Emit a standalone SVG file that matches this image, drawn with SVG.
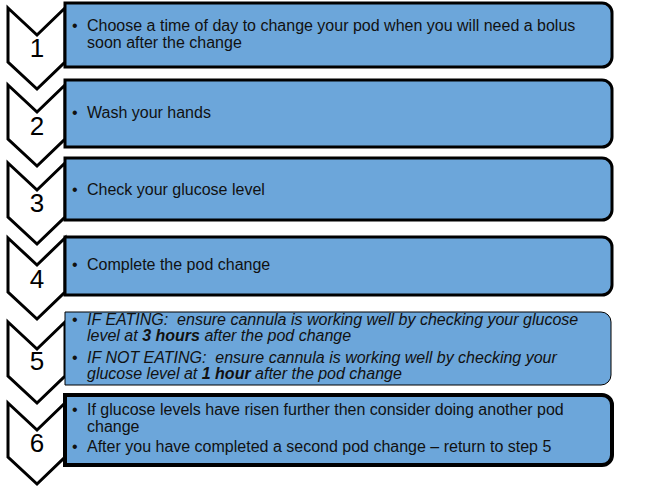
<svg xmlns="http://www.w3.org/2000/svg" width="660" height="496" viewBox="0 0 660 496">
<style>
.chev{fill:#fff;stroke:#000;stroke-width:3;stroke-linejoin:miter}
.box{fill:#6CA6DA;stroke:#000;stroke-width:3}
.box5{fill:#6CA6DA;stroke:#000;stroke-width:1}
.num{font-family:"Liberation Sans",Arial,sans-serif;font-size:26px;fill:#000;text-anchor:middle}
.t{font-family:"Liberation Sans",Arial,sans-serif;font-size:16px;fill:#111}
.ti{font-family:"Liberation Sans",Arial,sans-serif;font-size:16px;font-style:italic;fill:#111}
</style>
<rect width="660" height="496" fill="#fff"/>
<g id="chevrons">
<path class="chev" d="M8,8 L37,35 L65,8 V62 L37,89 L8,62 Z"/>
<path class="chev" d="M8,85 L37,112 L65,85 V139 L37,166 L8,139 Z"/>
<path class="chev" d="M8,163 L37,190 L65,163 V217 L37,244 L8,217 Z"/>
<path class="chev" d="M8,238 L37,265 L65,238 V292 L37,319 L8,292 Z"/>
<path class="chev" d="M8,322 L37,349 L65,322 V376 L37,403 L8,376 Z"/>
<path class="chev" d="M8,403 L37,430 L65,403 V457 L37,484 L8,457 Z"/>
</g>
<g id="step1">
<path class="box" d="M65,3 H602 A10,10 0 0 1 612,13 V57 A10,10 0 0 1 602,67 H65 Z"/>
<text class="num" x="37" y="57">1</text>
<text class="t" x="72" y="31">•</text>
<text class="t" x="87" y="31">Choose a time of day to change your pod when you will need a bolus</text>
<text class="t" x="87" y="48">soon after the change</text>
</g>
<g id="step2">
<path class="box" d="M65,80 H602 A10,10 0 0 1 612,90 V137 A10,10 0 0 1 602,147 H65 Z"/>
<text class="num" x="37" y="135">2</text>
<text class="t" x="72" y="118">•</text>
<text class="t" x="87" y="118">Wash your hands</text>
</g>
<g id="step3">
<path class="box" d="M65,158 H602 A10,10 0 0 1 612,168 V210 A10,10 0 0 1 602,220 H65 Z"/>
<text class="num" x="37" y="212">3</text>
<text class="t" x="72" y="195">•</text>
<text class="t" x="87" y="195">Check your glucose level</text>
</g>
<g id="step4">
<path class="box" d="M65,237 H602 A10,10 0 0 1 612,247 V285 A10,10 0 0 1 602,295 H65 Z"/>
<text class="num" x="37" y="288">4</text>
<text class="t" x="72" y="270">•</text>
<text class="t" x="87" y="270">Complete the pod change</text>
</g>
<g id="step5">
<path class="box5" d="M65,312 H601 A10,10 0 0 1 611,322 V375 A10,10 0 0 1 601,385 H65 Z"/>
<text class="num" x="37" y="370">5</text>
<text class="t" x="72" y="325">•</text>
<text class="ti" x="87" y="325" xml:space="preserve">IF EATING:  ensure cannula is working well by checking your glucose</text>
<text class="ti" x="87" y="341">level at <tspan font-weight="bold">3 hours</tspan> after the pod change</text>
<text class="t" x="72" y="363">•</text>
<text class="ti" x="87" y="363" xml:space="preserve">IF NOT EATING:  ensure cannula is working well by checking your</text>
<text class="ti" x="87" y="379">glucose level at <tspan font-weight="bold">1 hour</tspan> after the pod change</text>
</g>
<g id="step6">
<path class="box" style="stroke-width:4" d="M65,395 H602 A10,10 0 0 1 612,405 V455 A10,10 0 0 1 602,465 H65 Z"/>
<text class="num" x="37" y="452">6</text>
<text class="t" x="72" y="415">•</text>
<text class="t" x="87" y="415">If glucose levels have risen further then consider doing another pod</text>
<text class="t" x="87" y="432">change</text>
<text class="t" x="72" y="452">•</text>
<text class="t" x="87" y="452">After you have completed a second pod change – return to step 5</text>
</g>
<g id="connectors"></g>
</svg>
